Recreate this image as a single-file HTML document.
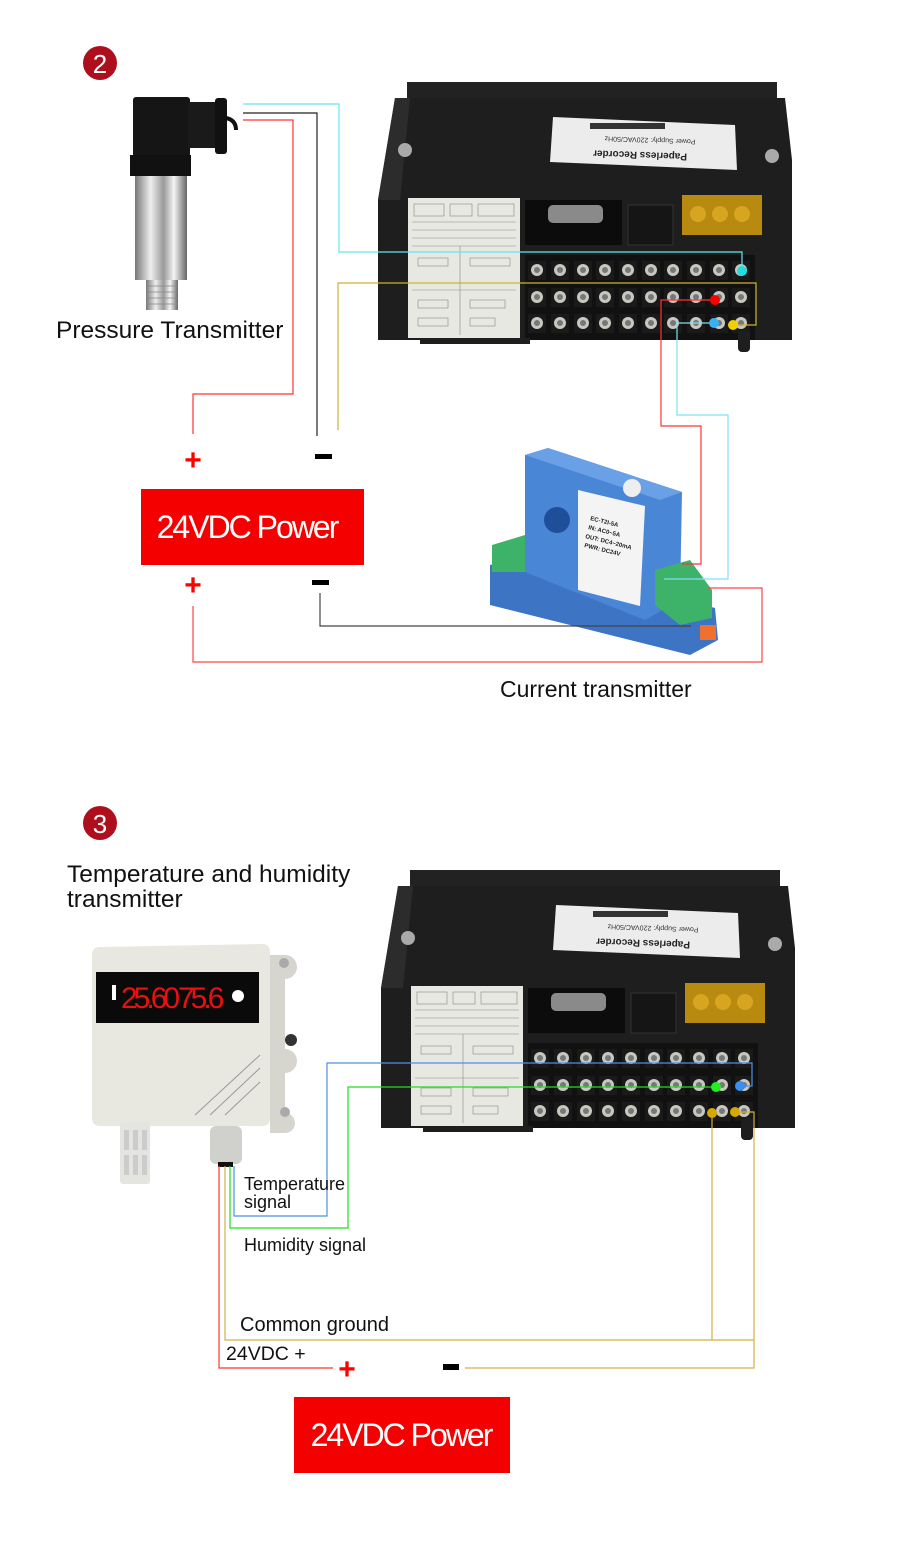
<!DOCTYPE html>
<html><head><meta charset="utf-8"><style>
html,body{margin:0;padding:0;background:#fff}
svg{display:block}
text{font-family:"Liberation Sans",sans-serif}
</style></head><body>
<svg width="900" height="1541" viewBox="0 0 900 1541" xmlns="http://www.w3.org/2000/svg">
<defs>
<linearGradient id="steel" x1="0" x2="1">
<stop offset="0" stop-color="#777"/><stop offset="0.3" stop-color="#eee"/><stop offset="0.55" stop-color="#999"/><stop offset="0.75" stop-color="#f4f4f4"/><stop offset="1" stop-color="#666"/>
</linearGradient>
<g id="term">
<rect x="-9" y="-9" width="18" height="19" fill="#1a1a1a"/>
<circle cx="0" cy="0" r="6" fill="#c8c8c0"/><circle cx="0" cy="0" r="3" fill="#777"/>
</g>
<g id="rec">
<rect x="407" y="82" width="370" height="16" fill="#222"/>
<polygon points="395,98 785,98 792,160 792,340 378,340 378,200" fill="#1e1e1e"/>
<polygon points="378,200 395,98 410,98 400,200" fill="#2c2c2c"/>
<polygon points="553,117 735,125 737,170 550,162" fill="#ececec"/>
<rect x="590" y="123" width="75" height="6" fill="#333"/>
<text x="640" y="160" font-size="10" font-weight="bold" fill="#222" text-anchor="middle" transform="rotate(182 640 156)">Paperless Recorder</text>
<text x="650" y="142" font-size="7" fill="#333" text-anchor="middle" transform="rotate(182 650 140)">Power Supply: 220VAC/50Hz</text>
<circle cx="405" cy="150" r="7" fill="#aaa"/><circle cx="772" cy="156" r="7" fill="#aaa"/>
<rect x="408" y="198" width="112" height="140" fill="#e8e8e2"/>
<g stroke="#888" stroke-width="0.6" fill="none">
<rect x="414" y="204" width="30" height="12"/><rect x="450" y="204" width="22" height="12"/><rect x="478" y="204" width="36" height="12"/>
<line x1="412" y1="222" x2="516" y2="222"/><line x1="412" y1="230" x2="516" y2="230"/><line x1="412" y1="238" x2="516" y2="238"/><line x1="412" y1="246" x2="516" y2="246"/>
<line x1="412" y1="290" x2="516" y2="290"/><line x1="460" y1="246" x2="460" y2="335"/>
<rect x="418" y="258" width="30" height="8"/><rect x="470" y="258" width="40" height="8"/>
<rect x="418" y="300" width="30" height="8"/><rect x="470" y="300" width="35" height="8"/><rect x="418" y="318" width="30" height="8"/><rect x="470" y="318" width="25" height="8"/>
</g>
<rect x="525" y="200" width="97" height="45" fill="#0c0c0c"/>
<rect x="548" y="205" width="55" height="18" rx="5" fill="#8a8a8a"/>
<rect x="628" y="205" width="45" height="40" fill="#151515" stroke="#333"/>
<rect x="682" y="195" width="80" height="40" fill="#b88a10"/>
<circle cx="698" cy="214" r="8" fill="#d8a520"/><circle cx="720" cy="214" r="8" fill="#d8a520"/><circle cx="742" cy="214" r="8" fill="#d8a520"/>
<rect x="525" y="255" width="230" height="85" fill="#111"/>
<g>
<use href="#term" x="537" y="270"/><use href="#term" x="560" y="270"/><use href="#term" x="583" y="270"/><use href="#term" x="605" y="270"/><use href="#term" x="628" y="270"/><use href="#term" x="651" y="270"/><use href="#term" x="673" y="270"/><use href="#term" x="696" y="270"/><use href="#term" x="719" y="270"/><use href="#term" x="741" y="270"/>
<use href="#term" x="537" y="297"/><use href="#term" x="560" y="297"/><use href="#term" x="583" y="297"/><use href="#term" x="605" y="297"/><use href="#term" x="628" y="297"/><use href="#term" x="651" y="297"/><use href="#term" x="673" y="297"/><use href="#term" x="696" y="297"/><use href="#term" x="719" y="297"/><use href="#term" x="741" y="297"/>
<use href="#term" x="537" y="323"/><use href="#term" x="560" y="323"/><use href="#term" x="583" y="323"/><use href="#term" x="605" y="323"/><use href="#term" x="628" y="323"/><use href="#term" x="651" y="323"/><use href="#term" x="673" y="323"/><use href="#term" x="696" y="323"/><use href="#term" x="719" y="323"/><use href="#term" x="741" y="323"/>
</g>
<rect x="420" y="338" width="110" height="6" fill="#1e1e1e"/>
<rect x="738" y="330" width="12" height="22" rx="4" fill="#1e1e1e"/>
</g>
</defs>

<circle cx="100" cy="63" r="17" fill="#ad0f1c"/>
<text x="100" y="73" font-size="26" fill="#fff" text-anchor="middle">2</text>

<rect x="133" y="97" width="57" height="60" rx="3" fill="#151515"/>
<rect x="188" y="102" width="32" height="46" fill="#1a1a1a"/>
<rect x="215" y="98" width="12" height="56" rx="3" fill="#111"/>
<path d="M226 118 Q236 120 236 130" stroke="#111" stroke-width="4" fill="none"/>
<rect x="130" y="155" width="61" height="21" fill="#111"/>
<rect x="135" y="176" width="52" height="84" fill="url(#steel)"/>
<rect x="135" y="260" width="52" height="20" fill="url(#steel)"/>
<rect x="146" y="280" width="32" height="30" fill="url(#steel)"/>
<g stroke="#888" stroke-width="0.8"><line x1="146" y1="286" x2="178" y2="286"/><line x1="146" y1="292" x2="178" y2="292"/><line x1="146" y1="298" x2="178" y2="298"/><line x1="146" y1="304" x2="178" y2="304"/></g>
<text x="56" y="338" font-size="24.5" fill="#111">Pressure Transmitter</text>

<use href="#rec"/>

<polygon points="490,565 525,558 715,608 718,640 690,655 490,605" fill="#3d74c4"/>
<polygon points="525,455 548,448 682,492 680,600 645,620 525,572" fill="#4a86d6"/>
<polygon points="525,455 548,448 682,492 660,500" fill="#6aa0e6"/>
<polygon points="578,490 645,506 640,606 578,590" fill="#f4f4f4"/>
<circle cx="557" cy="520" r="13" fill="#1f4f9a"/>
<circle cx="632" cy="488" r="9" fill="#eee"/>
<g font-size="6" fill="#222" font-weight="bold">
<text x="590" y="520" transform="rotate(14 590 520)">EC-T2I-5A</text>
<text x="588" y="529" transform="rotate(14 588 529)">IN: AC0~5A</text>
<text x="585" y="538" transform="rotate(14 585 538)">OUT: DC4~20mA</text>
<text x="584" y="547" transform="rotate(14 584 547)">PWR: DC24V</text>
</g>
<polygon points="492,545 525,535 525,572 492,572" fill="#3db36a"/>
<polygon points="655,570 690,560 712,590 712,618 680,625 655,605" fill="#3db36a"/>
<rect x="700" y="625" width="16" height="15" fill="#f07030"/>

<rect x="141" y="489" width="223" height="76" fill="#f40000"/>
<text x="247" y="538" font-size="32" fill="#fff" text-anchor="middle" letter-spacing="-2">24VDC Power</text>
<text x="193" y="470" font-size="30" fill="#f00" text-anchor="middle" font-weight="bold">+</text>
<text x="193" y="595" font-size="30" fill="#f00" text-anchor="middle" font-weight="bold">+</text>
<rect x="315" y="454" width="17" height="5" fill="#000"/>
<rect x="312" y="580" width="17" height="5" fill="#000"/>

<g fill="none" stroke-width="1.2">
<polyline points="243,104 339,104 339,252 742,252 742,271" stroke="#66e6f0"/>
<polyline points="243,113 317,113 317,436" stroke="#222"/>
<polyline points="243,120 293,120 293,394 193,394 193,434" stroke="#f33"/>
<polyline points="338,430 338,283 756,283 756,325 733,325" stroke="#d0b030"/>
<polyline points="715,300 661,300 661,426 701,426 701,564 682,564" stroke="#f33"/>
<polyline points="714,323 677,323 677,415 728,415 728,579 664,579" stroke="#80e0f0"/>
<polyline points="320,593 320,626 691,626" stroke="#444"/>
<polyline points="193,606 193,662 762,662 762,588 708,588" stroke="#f44"/>
</g>
<circle cx="742" cy="271" r="5" fill="#22dde0"/>
<circle cx="715" cy="300" r="5" fill="#f00"/>
<circle cx="714" cy="323" r="5" fill="#3ab0f0"/>
<circle cx="733" cy="325" r="5" fill="#f0d000"/>
<text x="500" y="697" font-size="23" fill="#111">Current transmitter</text>

<circle cx="100" cy="823" r="17" fill="#ad0f1c"/>
<text x="100" y="833" font-size="26" fill="#fff" text-anchor="middle">3</text>
<text x="67" y="882" font-size="24.5" fill="#111">Temperature and humidity</text>
<text x="67" y="907" font-size="24.5" fill="#111">transmitter</text>

<path d="M270 955 h15 a12 12 0 0 1 0 24 v70 a12 12 0 0 1 0 24 v40 a10 10 0 0 1 0 20 h-15 z" fill="#d6d6ce"/>
<circle cx="284" cy="963" r="5" fill="#aaa"/><circle cx="291" cy="1040" r="6" fill="#333"/><circle cx="285" cy="1112" r="5" fill="#aaa"/>
<path d="M92 955 Q92 947 100 947 L262 944 Q270 944 270 952 L270 1118 Q270 1126 262 1126 L100 1126 Q92 1126 92 1118 Z" fill="#e8e8e0"/>
<rect x="96" y="972" width="163" height="51" fill="#0a0a0a"/>
<text x="121" y="1008" font-size="30" fill="#e81010" font-family="Liberation Mono,monospace" letter-spacing="-4">25.60</text>
<text x="178" y="1008" font-size="30" fill="#e81010" font-family="Liberation Mono,monospace" letter-spacing="-4">75.6</text>
<circle cx="238" cy="996" r="6" fill="#fff"/>
<rect x="112" y="985" width="4" height="15" fill="#fff"/>
<g stroke="#999" stroke-width="1"><line x1="195" y1="1115" x2="260" y2="1055"/><line x1="210" y1="1115" x2="260" y2="1068"/><line x1="225" y1="1115" x2="260" y2="1082"/></g>
<rect x="120" y="1122" width="30" height="62" rx="3" fill="#e4e4e0"/>
<g fill="#ccc"><rect x="124" y="1130" width="5" height="20"/><rect x="133" y="1130" width="5" height="20"/><rect x="142" y="1130" width="5" height="20"/><rect x="124" y="1155" width="5" height="20"/><rect x="133" y="1155" width="5" height="20"/><rect x="142" y="1155" width="5" height="20"/></g>
<rect x="210" y="1126" width="32" height="38" rx="6" fill="#d0d0cc"/>
<rect x="218" y="1162" width="15" height="5" fill="#111"/>

<use href="#rec" transform="translate(3 788)"/>

<g fill="none" stroke-width="1.2">
<polyline points="234,1166 234,1216 327,1216 327,1063 752,1063 752,1086 740,1086" stroke="#4a90e8"/>
<polyline points="230,1166 230,1228 348,1228 348,1087 716,1087" stroke="#22dd22"/>
<polyline points="225,1166 225,1340 754,1340" stroke="#d4b040"/>
<polyline points="712,1113 712,1340" stroke="#d4b040"/>
<polyline points="735,1112 754,1112 754,1368 465,1368" stroke="#d4b040"/>
<polyline points="219,1166 219,1368 333,1368" stroke="#f33"/>
</g>
<circle cx="716" cy="1087" r="5" fill="#22ee22"/>
<circle cx="740" cy="1086" r="5" fill="#3a8ef0"/>
<circle cx="712" cy="1113" r="5" fill="#d4a800"/>
<circle cx="735" cy="1112" r="5" fill="#d4a800"/>

<text x="244" y="1190" font-size="18" fill="#111">Temperature</text>
<text x="244" y="1208" font-size="18" fill="#111">signal</text>
<text x="244" y="1251" font-size="18" fill="#111">Humidity signal</text>
<text x="240" y="1331" font-size="20" fill="#111">Common ground</text>
<text x="226" y="1360" font-size="19.5" fill="#111">24VDC +</text>
<text x="347" y="1379" font-size="30" fill="#f00" text-anchor="middle" font-weight="bold">+</text>
<rect x="443" y="1364" width="16" height="6" fill="#000"/>

<rect x="294" y="1397" width="216" height="76" fill="#f40000"/>
<text x="401" y="1446" font-size="32" fill="#fff" text-anchor="middle" letter-spacing="-2">24VDC Power</text>
</svg>
</body></html>
